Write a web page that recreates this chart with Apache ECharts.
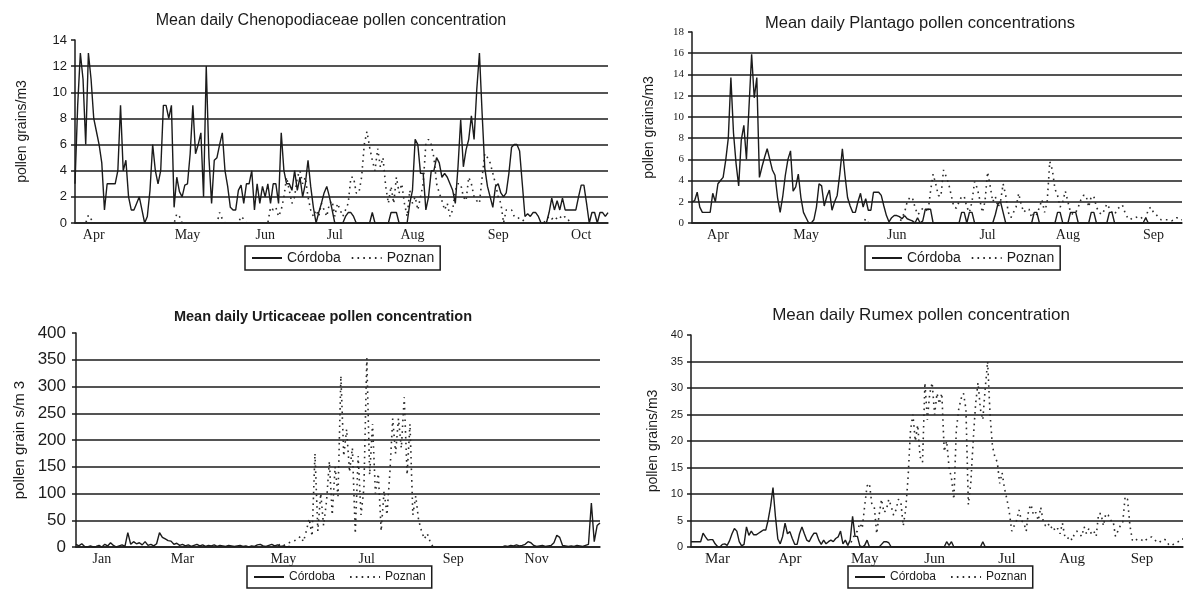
<!DOCTYPE html>
<html>
<head>
<meta charset="utf-8">
<title>Mean daily pollen concentrations</title>
<script src="https://cdn.jsdelivr.net/npm/echarts@6/dist/echarts.min.js"></script>
<style>
  html, body { margin: 0; padding: 0; background: #fff; }
  #chart { width: 1190px; height: 590px; }
</style>
</head>
<body>
<div id="chart"></div>
<script>
// Mean daily pollen concentrations, Córdoba vs Poznan
// One value per day (Urticaceae: one per two days)

// --- Chenopodiaceae ---
const chenoMonths = ['Apr', 'May', 'Jun', 'Jul', 'Aug', 'Sep', 'Oct'];
const chenoMonthIdx = [7, 42, 71, 97, 126, 158, 189];
const chenoCordoba = [
    3, 9, 13, 11, 6, 13, 11, 8, 7, 6,
    4.6, 1, 3, 3, 3, 3, 4, 9, 4, 4.8,
    2, 1, 1, 1.5, 2, 1, 0, 0.5, 2.5, 6,
    4, 3, 4, 9, 9, 8, 9, 1.2, 3.5, 2.4,
    2, 2.9, 3, 5.3, 9, 5.3, 6, 6.9, 2, 12,
    5, 1.5, 4.8, 5, 6, 6.9, 4, 2.8, 1.2, 1,
    1, 2.5, 2.9, 1.5, 3, 3, 4, 1, 3, 1.5,
    2.8, 2, 3, 1.5, 3, 3, 1.5, 6.9, 4, 3,
    3, 2.5, 4, 2.5, 3.5, 2, 3, 4.8, 2.8, 1.2,
    0, 0.8, 1.5, 2.3, 2.8, 2, 1, 0, 0, 0,
    0, 0.5, 0.8, 0.8, 0.5, 0, 0, 0, 0, 0,
    0, 0.8, 0, 0, 0, 0, 0, 0, 0.8, 0.8,
    0.8, 0, 0, 0, 0, 1.5, 2.5, 6.4, 6, 3.8,
    3.8, 1, 2, 4, 4, 5, 4.6, 3.5, 3.8, 3.5,
    3, 2.5, 1.5, 4.3, 7.9, 4.3, 5.6, 6.4, 8.2, 6.4,
    10.2, 13, 8.4, 4.2, 2.8, 2, 1.2, 2.8, 3, 2.3,
    2, 2.3, 3.8, 5.8, 6, 6, 5.5, 3, 0.5, 0.7,
    0.5, 0.8, 0.8, 0.5, 0, 0, 0, 0.8, 1.9, 1,
    1.7, 1, 1.9, 1, 1, 1, 1, 1, 2, 2.9,
    2.9, 1.5, 0, 0.8, 0.8, 0, 0.8, 0.8, 0.5, 0.8
];
const chenoPoznan = [
    0, 0, 0, 0, 0, 0.6, 0.3, 0, 0, 0,
    0, 0, 0, 0, 0, 0, 0, 0, 0, 0,
    0, 0, 0, 0, 0, 0, 0, 0, 0, 0,
    0, 0, 0, 0, 0, 0, 0, 0, 0.7, 0.5,
    0, 0, 0, 0, 0, 0, 0, 0, 0, 0,
    0, 0, 0, 0, 0.8, 0.3, 0, 0, 0, 0,
    0, 0, 0.5, 0.3, 0, 0, 0, 0, 0, 0,
    0, 0, 0, 1.2, 1, 1.2, 0.5, 1, 2, 3.5,
    2.5, 1.5, 2, 3.5, 4, 3, 3.5, 2, 1, 0.5,
    1, 0.5, 1.5, 1, 0.5, 1.5, 1.7, 0.5, 1.5, 1,
    0.5, 1, 1.5, 3.5, 3.5, 2.3, 2.3, 3.5, 6, 7,
    5.8, 4.8, 4, 5.7, 4.3, 5, 2.8, 1.5, 2.8, 1.5,
    3.5, 2.3, 3, 1.5, 0.5, 2.5, 1.5, 2, 1, 2,
    3, 6.1, 6.4, 6, 5, 3, 2.3, 1.7, 1, 1.5,
    0.5, 1, 2.5, 3, 3, 2, 1.7, 3.5, 3, 2,
    1.7, 1.5, 3.5, 5.3, 5, 4.6, 3.8, 3, 2, 1.5,
    0, 1, 1, 1, 0.5, 0.5, 0.3, 0.3, 0, 0,
    0, 0, 0, 0, 0, 0, 0.3, 0.5, 0.3, 0.5,
    0.3, 0.5, 0.3, 0.5, 0.3, 0, 0, 0, 0, 0,
    0, 0, 0, 0, 0, 0, 0, 0, 0, 0
];

// --- Plantago ---
const plantagoMonths = ['Apr', 'May', 'Jun', 'Jul', 'Aug', 'Sep'];
const plantagoMonthIdx = [10, 44, 79, 114, 145, 178];
const plantagoCordoba = [
    2, 2.1, 2.9, 1.5, 1, 1, 1, 1, 2.8, 2,
    3.7, 4, 4.3, 5.9, 8, 13.7, 8.5, 5.6, 3.5, 7.8,
    9.2, 6, 11, 15.9, 11.8, 13.7, 4.3, 5.3, 6.2, 7,
    6, 5, 4.5, 2.4, 1, 2.5, 4.5, 6, 6.8, 3,
    3.4, 4.6, 2.4, 1, 0.5, 0, 0, 0.3, 1.5, 3.7,
    3.5, 1.6, 2.5, 3.1, 1.2, 2, 2.6, 4.6, 7, 4.5,
    2.4, 1.6, 1, 1, 2, 2.8, 1.5, 2.3, 1.2, 1.2,
    2.9, 2.9, 2.9, 2.6, 1.6, 0.7, 0.1, 0.5, 0.7, 0.7,
    0.6, 0.4, 0.7, 0.4, 0.3, 0.2, 0, 0.5, 0, 0.2,
    1.3, 1.3, 1.3, 0, 0, 0, 0, 0, 0, 0,
    0, 0, 0, 0, 1, 1, 0, 1, 1, 0,
    0, 0, 0, 0, 0, 0, 0, 0.8, 1.8, 2,
    1, 0, 0, 0, 0, 0, 0, 0, 0, 0,
    0, 0, 1, 1, 0, 0, 0, 0, 0, 0,
    0, 1, 1, 0, 0, 0, 1, 1, 1, 0,
    0, 0, 0, 0, 1, 1, 0, 0, 0, 0,
    0, 1, 1, 0, 0, 0, 0, 0, 0, 0,
    0, 0, 0, 0, 0, 0.5, 0, 0, 0, 0,
    0, 0, 0, 0, 0, 0, 0, 0, 0, 0
];
const plantagoPoznan = [
    0, 0, 0, 0, 0, 0, 0, 0, 0, 0,
    0, 0, 0, 0, 0, 0, 0, 0, 0, 0,
    0, 0, 0, 0, 0, 0, 0, 0, 0, 0,
    0, 0, 0, 0, 0, 0, 0, 0, 0, 0,
    0, 0, 0, 0, 0, 0, 0, 0, 0, 0,
    0, 0, 0, 0, 0, 0, 0, 0, 0, 0,
    0, 0, 0, 0, 0, 0, 0, 0.4, 0, 0,
    0, 0, 0, 0, 0, 0, 0, 0, 0, 0,
    0, 0.5, 1, 2, 2.4, 2.4, 1.5, 0.8, 1, 1.4,
    1.4, 1, 3, 4.6, 3.7, 2.6, 2.5, 5, 4.4, 3.7,
    2.6, 1.5, 1.4, 2, 2.5, 2.5, 1.5, 1, 2, 3.9,
    3.3, 2.2, 1, 2, 4.8, 3.5, 2, 2.5, 1.5, 2,
    3.7, 2.6, 1, 0.5, 1, 1.5, 2.8, 1.7, 1, 1.3,
    1.3, 0.5, 1, 0.8, 1.5, 2.2, 1, 2, 5.8, 5,
    3.2, 2.6, 1.5, 2, 3, 2, 1, 0.8, 1, 1.5,
    2.2, 2.6, 2.6, 1.5, 2.5, 2.5, 1.5, 1, 0.8, 1.2,
    1.8, 1.4, 1, 0.8, 1.3, 1.5, 1.7, 1, 0.5, 0.3,
    0.5, 0.5, 0.6, 0.6, 0.3, 0.4, 1.3, 1.5, 1, 0.8,
    0.5, 0.3, 0.3, 0.3, 0.3, 0.2, 0.3, 0.5, 0.3, 0.3
];

// --- Urticaceae (every second day, Jan-Dec) ---
const urticaMonths = ['Jan', 'Mar', 'May', 'Jul', 'Sep', 'Nov'];
const urticaMonthIdx = [9, 37, 72, 101, 131, 160];
const urticaCordoba = [
    5, 2, 6, 1, 0, 2, 0, 1, 3, 0,
    5, 2, 8, 3, 0, 2, 4, 1, 27, 5,
    10, 6, 8, 4, 10, 3, 5, 2, 6, 27,
    18, 15, 12, 11, 5, 7, 3, 5, 2, 4,
    1, 3, 5, 2, 4, 1, 3, 2, 4, 1,
    3, 2, 1, 3, 2, 1, 2, 3, 1, 2,
    0, 2, 1, 4, 5, 2, 1, 3, 5, 2,
    4, 1, 2, 0, 1, 0, 0, 0, 0, 0,
    0, 0, 0, 0, 0, 0, 0, 0, 0, 0,
    0, 0, 0, 0, 0, 0, 0, 0, 0, 0,
    0, 0, 0, 0, 0, 0, 0, 0, 0, 0,
    0, 0, 0, 0, 0, 0, 0, 0, 0, 0,
    0, 0, 0, 0, 0, 0, 0, 0, 0, 0,
    0, 0, 0, 0, 0, 0, 0, 0, 0, 0,
    0, 0, 0, 0, 0, 0, 0, 0, 0, 2,
    1, 3, 2, 4, 2, 3, 5, 10, 8, 3,
    1, 2, 3, 1, 2, 3, 8, 22, 18, 3,
    2, 1, 2, 1, 3, 2, 1, 3, 5, 82,
    10, 40, 45
];
const urticaPoznan = [
    0, 0, 0, 0, 0, 0, 0, 0, 0, 0,
    0, 0, 0, 0, 0, 0, 0, 0, 0, 0,
    0, 0, 0, 0, 0, 0, 0, 0, 0, 0,
    0, 0, 0, 0, 0, 0, 0, 0, 0, 0,
    0, 0, 0, 0, 0, 0, 0, 0, 0, 0,
    0, 0, 0, 0, 0, 0, 0, 0, 0, 0,
    0, 0, 0, 0, 0, 0, 0, 0, 0, 0,
    3, 5, 2, 6, 8, 10, 12, 15, 20, 10,
    30, 53, 20, 175, 30, 100, 40, 85, 160, 60,
    150, 95, 320, 170, 220, 140, 185, 25, 170, 60,
    110, 353, 135, 230, 100, 137, 30, 105, 60, 137,
    240, 175, 240, 185, 280, 135, 230, 60, 95, 50,
    30, 15, 25, 10, 0, 0, 0, 0, 0, 0,
    0, 0, 0, 0, 0, 0, 0, 0, 0, 0,
    0, 0, 0, 0, 0, 0, 0, 0, 0, 0,
    0, 0, 0, 0, 0, 0, 0, 0, 0, 0,
    0, 0, 0, 0, 0, 0, 0, 0, 0, 0,
    0, 0, 0, 0, 0, 0, 0, 0, 0, 0,
    0, 0, 0
];

// --- Rumex ---
const rumexMonths = ['Mar', 'Apr', 'May', 'Jun', 'Jul', 'Aug', 'Sep'];
const rumexMonthIdx = [11, 41, 72, 101, 131, 158, 187];
const rumexCordoba = [
    1, 1, 1, 1, 1, 2.6, 1.9, 1.3, 1.4, 1.4,
    0.6, 0.1, 0, 0.5, 0.6, 0.3, 1.2, 2.5, 3.5, 3,
    1, 0.2, 0.5, 3.8, 2.2, 3, 2.3, 2.3, 2.6, 2.9,
    3.2, 3.2, 5.1, 7.7, 11.2, 5.8, 1.5, 0.6, 2, 4.5,
    2.5, 2.9, 1.6, 0.5, 0.5, 2.5, 3.8, 2.5, 1.3, 1,
    1.9, 2.6, 2.6, 1.3, 0.5, 1.3, 0.6, 1, 1.3, 1,
    1.6, 1.9, 3, 0.6, 1.3, 0.3, 1.3, 5.8, 2, 2,
    0.2, 0, 0.3, 1.3, 0, 0, 0, 0, 0, 0.5,
    1, 1, 0.8, 0, 0, 0, 0, 0, 0, 0,
    0, 0, 0, 0, 0, 0, 0, 0, 0, 0,
    0, 0, 0, 0, 0, 0, 1, 0.3, 1, 0,
    0, 0, 0, 0, 0, 0, 0, 0, 0, 0,
    0, 1, 0, 0, 0, 0, 0, 0, 0, 0,
    0, 0, 0, 0, 0, 0, 0, 0, 0, 0,
    0, 0, 0, 0, 0, 0, 0, 0, 0, 0,
    0, 0, 0, 0, 0, 0, 0, 0, 0, 0,
    0, 0, 0, 0, 0, 0, 0, 0, 0, 0,
    0, 0, 0, 0, 0, 0, 0, 0, 0, 0,
    0, 0, 0, 0, 0, 0, 0, 0, 0, 0,
    0, 0, 0, 0, 0, 0, 0, 0, 0, 0,
    0, 0, 0, 0, 0
];
const rumexPoznan = [
    0, 0, 0, 0, 0, 0, 0, 0, 0, 0,
    0, 0, 0, 0, 0, 0, 0, 0, 0, 0,
    0, 0, 0, 0, 0, 0, 0, 0, 0, 0,
    0, 0, 0, 0, 0, 0, 0, 0, 0, 0,
    0, 0, 0, 0, 0, 0, 0, 0, 0, 0,
    0, 0, 0, 0, 0, 0, 0, 0, 0, 0,
    0, 0, 0, 0, 0, 0, 0.5, 1.5, 2.5, 3,
    4.5, 3.5, 7.7, 11.5, 12, 8, 7.5, 2.5, 6, 9,
    6.5, 7, 9, 7.7, 6, 7, 9, 8.5, 4, 7,
    13, 22, 25, 20, 23, 17, 16, 31, 24, 29,
    31, 25, 29, 27, 29, 18, 20, 15, 13, 9,
    22, 26, 28, 29, 26, 8, 12, 20, 27, 31,
    26, 24, 30, 35, 25, 19, 17, 16, 12, 14,
    11, 9, 6.5, 3, 4, 5, 7, 5, 4.5, 3,
    7, 8, 6, 6.5, 5, 7.5, 5, 4, 4.5, 3.5,
    4, 3, 3.5, 2.5, 4.5, 2, 1.5, 2, 1.3, 2.5,
    3, 2.5, 2, 3.8, 2.5, 3.5, 2.5, 3, 2, 6.3,
    6.3, 4, 6.3, 6, 5, 5, 2, 3, 4, 4.5,
    9.5, 9, 4, 1.3, 1, 1.5, 1.5, 1.3, 1, 1.5,
    1.8, 1.9, 1.5, 1, 0.8, 1.2, 1.5, 1.3, 0.5, 0.2,
    0.5, 0.8, 1, 1.5, 1.5
];

const INK = '#1b1b1b';
const SANS = '"Liberation Sans", Arial, sans-serif';
const SERIF = '"Liberation Serif", "Times New Roman", serif';

document.addEventListener('DOMContentLoaded', function() {
    initializePollenChart();
});

// Build everything one panel needs; k is the panel's grid index
function buildPanel(k, p) {
    const days = p.cordoba.map((v, i) => String(i));
    const labelAt = {};
    p.monthIdx.forEach((idx, m) => { labelAt[idx] = p.months[m]; });

    // every tick gets a grid line except the top one
    const nTicks = p.yMax / p.yStep + 1;
    const splitColors = [];
    for (let t = 0; t < nTicks; t++) {
        splitColors.push(t === nTicks - 1 ? 'rgba(0,0,0,0)' : INK);
    }

    return {
        grid: Object.assign({ containLabel: false }, p.grid),
        xAxis: {
            type: 'category',
            gridIndex: k,
            data: days,
            boundaryGap: false,
            axisLine: { lineStyle: { color: INK, width: 1.5 } },
            axisTick: { show: false },
            axisLabel: {
                interval: function(idx) { return labelAt[idx] !== undefined; },
                formatter: function(val, idx) { return labelAt[idx] || ''; },
                fontFamily: SERIF,
                fontSize: p.xFont,
                color: INK,
                margin: 5
            },
            splitLine: { show: false }
        },
        yAxis: {
            type: 'value',
            gridIndex: k,
            min: 0,
            max: p.yMax,
            interval: p.yStep,
            name: p.yName,
            nameLocation: 'middle',
            nameGap: p.yNameGap,
            nameTextStyle: { fontFamily: SANS, fontSize: p.yNameFont, color: INK },
            axisLine: { show: true, lineStyle: { color: INK, width: 1.5 } },
            axisTick: { show: true, length: 4, lineStyle: { color: INK, width: 1.5 } },
            axisLabel: { fontFamily: p.yLabelFamily, fontSize: p.yLabelFont, color: INK, margin: p.yLabelMargin },
            splitLine: { show: true, lineStyle: { color: splitColors, width: 1.5 } }
        },
        series: [
            {
                name: 'Córdoba',
                type: 'line',
                xAxisIndex: k,
                yAxisIndex: k,
                data: p.cordoba,
                symbol: 'none',
                lineStyle: { color: INK, width: 1.4 },
                itemStyle: { color: INK },
                z: 3
            },
            {
                name: 'Poznan',
                type: 'line',
                xAxisIndex: k,
                yAxisIndex: k,
                data: p.poznan,
                symbol: 'none',
                lineStyle: { color: '#2a2a2a', width: 1.6, type: [1.6, 4.2] },
                itemStyle: { color: '#2a2a2a' },
                z: 2
            }
        ],
        legend: {
            data: ['Córdoba', 'Poznan'],
            left: p.legend.left,
            top: p.legend.top,
            orient: 'horizontal',
            itemWidth: 30,
            itemHeight: 10,
            itemGap: p.legend.gap,
            padding: [5, 6, 5, 6],
            borderColor: INK,
            borderWidth: 1.5,
            borderRadius: 0,
            selectedMode: false,
            itemStyle: { opacity: 0 },
            textStyle: { fontFamily: SANS, fontSize: p.legend.font, color: INK }
        },
        title: {
            type: 'text',
            x: p.title.x,
            y: p.title.y,
            style: {
                text: p.title.text,
                font: p.title.font,
                fill: INK,
                align: 'center',
                verticalAlign: 'middle'
            }
        }
    };
}

function initializePollenChart() {
    const container = document.getElementById('chart');
    const chart = echarts.init(container, null, { renderer: 'canvas' });

    const panels = [
        buildPanel(0, {
            grid: { left: 75, top: 40, width: 533, height: 183 },
            cordoba: chenoCordoba, poznan: chenoPoznan,
            months: chenoMonths, monthIdx: chenoMonthIdx, xFont: 14,
            yMax: 14, yStep: 2, yLabelFamily: SANS, yLabelFont: 13, yLabelMargin: 8,
            yName: 'pollen grains/m3', yNameGap: 46, yNameFont: 14,
            legend: { left: 245, top: 246, gap: 10, font: 14 },
            title: { x: 331, y: 21, text: 'Mean daily Chenopodiaceae pollen concentration', font: '16px ' + SANS }
        }),
        buildPanel(1, {
            grid: { left: 692, top: 32, width: 490, height: 191 },
            cordoba: plantagoCordoba, poznan: plantagoPoznan,
            months: plantagoMonths, monthIdx: plantagoMonthIdx, xFont: 14,
            yMax: 18, yStep: 2, yLabelFamily: SERIF, yLabelFont: 11, yLabelMargin: 8,
            yName: 'pollen grains/m3', yNameGap: 36, yNameFont: 14,
            legend: { left: 865, top: 246, gap: 10, font: 14 },
            title: { x: 920, y: 23, text: 'Mean daily Plantago pollen concentrations', font: '16.5px ' + SANS }
        }),
        buildPanel(2, {
            grid: { left: 76, top: 333, width: 524, height: 214 },
            cordoba: urticaCordoba, poznan: urticaPoznan,
            months: urticaMonths, monthIdx: urticaMonthIdx, xFont: 14,
            yMax: 400, yStep: 50, yLabelFamily: SANS, yLabelFont: 17, yLabelMargin: 10,
            yName: 'pollen grain s/m 3', yNameGap: 49, yNameFont: 15,
            legend: { left: 247, top: 566, gap: 14, font: 12 },
            title: { x: 323, y: 317, text: 'Mean daily Urticaceae pollen concentration', font: 'bold 14.5px ' + SANS }
        }),
        buildPanel(3, {
            grid: { left: 691, top: 335, width: 492, height: 212 },
            cordoba: rumexCordoba, poznan: rumexPoznan,
            months: rumexMonths, monthIdx: rumexMonthIdx, xFont: 15,
            yMax: 40, yStep: 5, yLabelFamily: SANS, yLabelFont: 11, yLabelMargin: 8,
            yName: 'pollen grains/m3', yNameGap: 31, yNameFont: 14,
            legend: { left: 848, top: 566, gap: 14, font: 12 },
            title: { x: 921, y: 315, text: 'Mean daily Rumex pollen concentration', font: '17px ' + SANS }
        })
    ];

    const option = {
        backgroundColor: '#fff',
        animation: false,
        grid: panels.map(p => p.grid),
        xAxis: panels.map(p => p.xAxis),
        yAxis: panels.map(p => p.yAxis),
        legend: panels.map(p => p.legend),
        series: panels.reduce((all, p) => all.concat(p.series), []),
        graphic: panels.map(p => p.title)
    };

    chart.setOption(option);

    window.addEventListener('resize', function() {
        chart.resize();
    });
}
</script>
</body>
</html>
